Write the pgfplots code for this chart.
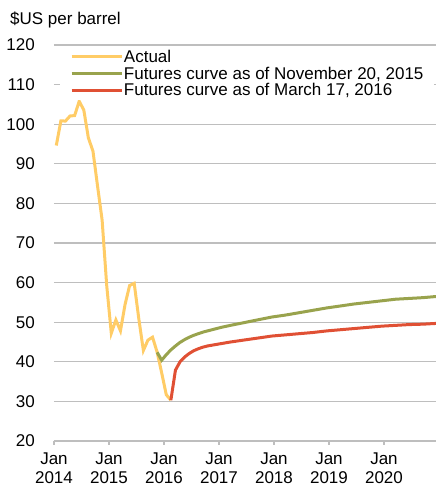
\documentclass[border=0pt]{standalone}
\usepackage{fontspec}
\setmainfont{Liberation Sans}
\usepackage{pgfplots}
\pgfplotsset{compat=1.18}
\definecolor{actualc}{RGB}{255,204,102}
\definecolor{novc}{RGB}{153,163,77}
\definecolor{marc}{RGB}{224,80,52}
\definecolor{gridc}{RGB}{190,190,190}

\begin{document}
\begin{tikzpicture}
\begin{axis}[
  name=ax,
  scale only axis, width=382bp, height=396bp,
  xmin=0, xmax=83.35, ymin=20, ymax=120,
  font=\fontsize{17bp}{20bp}\selectfont,
  /pgf/number format/assume math mode=true,
  ytick={20,30,...,120},
  xtick={0,12,...,72},
  xticklabels={{Jan\\2014},{Jan\\2015},{Jan\\2016},{Jan\\2017},{Jan\\2018},{Jan\\2019},{Jan\\2020}},
  xticklabel style={align=center, inner sep=0pt, yshift=-8bp,
    font=\fontsize{17bp}{19bp}\selectfont},
  yticklabel style={inner sep=0pt, xshift=-15bp},
  axis x line*=bottom, axis y line*=left,
  y axis line style={draw=none},
  x axis line style={color=gridc, line width=1.3bp},
  ymajorgrids, grid style={color=gridc, line width=1.3bp},
  ytick style={draw=none},
  xtick style={color=gridc, line width=1.3bp},
  tick align=outside, major tick length=4bp,
  legend image code/.code={\draw[#1, line width=3bp] (0bp,0bp) -- (50bp,0bp);},
  legend cell align=left,
  legend style={at={(rel axis cs:0,1)}, anchor=north west, xshift=6bp, yshift=-2bp,
    draw=none, fill=white, inner xsep=10bp, inner ysep=2bp, row sep=1.5bp,
    nodes={inner sep=0.75bp},
    font=\fontsize{17bp}{20bp}\selectfont},
]
% Actual monthly price, Jan 2014 - Feb 2016
\addplot[actualc, line width=3bp] coordinates {
  (0.5,94.62) (1.5,100.82) (2.5,100.80) (3.5,102.07) (4.5,102.18) (5.5,105.79)
  (6.5,103.59) (7.5,96.54) (8.5,93.21) (9.5,84.40) (10.5,75.79) (11.5,59.29)
  (12.5,47.22) (13.5,50.58) (14.5,47.82) (15.5,54.45) (16.5,59.27) (17.5,59.82)
  (18.5,50.90) (19.5,42.87) (20.5,45.48) (21.5,46.22) (22.5,42.44) (23.5,37.19)
  (24.5,31.68) (25.5,30.32)};
\addlegendentry{Actual}
% futures, Nov 20 2015
\addplot[novc, line width=3bp] coordinates {
  (22.5,42.4) (23.5,40.4) (24.5,41.8) (25.5,43.0) (26.5,44.0) (27.5,44.9)
  (28.5,45.6) (29.5,46.2) (30.5,46.7) (31.5,47.1) (32.5,47.5) (33.5,47.8)
  (34.5,48.1) (35.5,48.4) (36.5,48.7) (38.5,49.2) (41.5,49.9) (44.5,50.6)
  (47.5,51.3) (50.5,51.8) (53.5,52.4) (56.5,53.0) (59.5,53.6) (62.5,54.1)
  (65.5,54.6) (68.5,55.0) (71.5,55.4) (74.5,55.8) (77.5,56.0) (80.5,56.2)
  (83.5,56.5)};
\addlegendentry{Futures curve as of November 20, 2015}
% futures, Mar 17 2016
\addplot[marc, line width=3bp] coordinates {
  (25.5,30.3) (26.5,37.9) (27.5,40.0) (28.5,41.2) (29.5,42.1) (30.5,42.8)
  (31.5,43.3) (32.5,43.7) (33.5,44.0) (34.5,44.2) (35.5,44.4) (36.5,44.6)
  (38.5,45.0) (41.5,45.5) (44.5,46.0) (47.5,46.5) (50.5,46.8) (53.5,47.1)
  (56.5,47.4) (59.5,47.8) (62.5,48.1) (65.5,48.4) (68.5,48.7) (71.5,49.0)
  (74.5,49.2) (77.5,49.4) (80.5,49.5) (83.5,49.7)};
\addlegendentry{Futures curve as of March 17, 2016}
\end{axis}
\node[anchor=base west, inner sep=0pt, xshift=-44bp, yshift=20bp,
  font=\fontsize{17bp}{20bp}\selectfont] at (ax.north west) {\$US per barrel};
\pgfresetboundingbox
\path[use as bounding box] (-54bp,-47bp) rectangle (382bp,441bp);
\end{tikzpicture}
\end{document}
